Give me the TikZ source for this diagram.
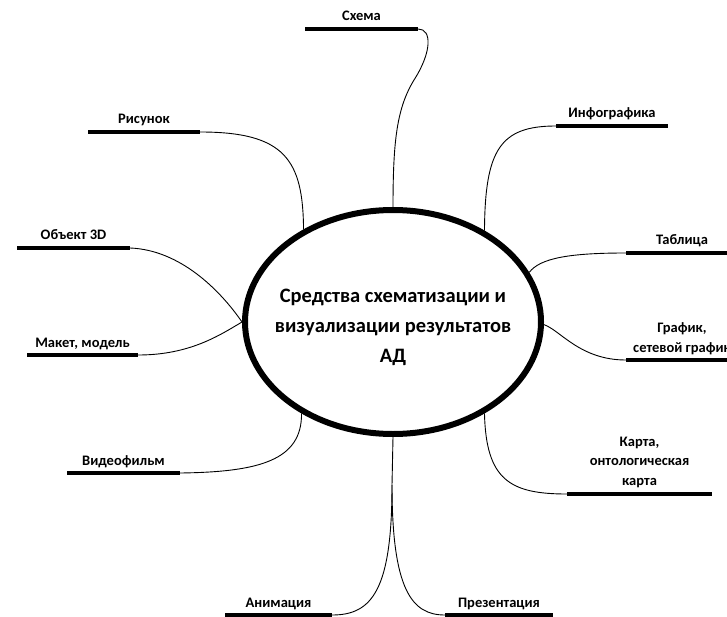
\documentclass[tikz,border=0pt]{standalone}
\usepackage{fontspec}
\setmainfont{Carlito}
\usetikzlibrary{shapes.geometric, positioning}

\begin{document}
\begin{tikzpicture}[x=1pt, y=-1pt,
    hub/.style={ellipse, draw, line width=6pt, minimum width=296pt, minimum height=224pt, inner sep=0pt},
    hubtext/.style={align=center, font=\bfseries\fontsize{20.5}{30}\selectfont},
    bar/.style={rectangle, fill=black, minimum height=4.5pt, inner sep=0pt},
    lbl/.style={anchor=base, align=center, inner sep=0pt, font=\bfseries\fontsize{14.5}{19.5}\selectfont},
    link/.style={line width=0.9pt}]
    \useasboundingbox (0,0) rectangle (727,617);
    % --- Центр ---
    \node[hub] (c) at (393,322) {};
    \node[hubtext] (ctext) at (393,327) {Средства схематизации и\\визуализации результатов\\АД};
    % --- Полки ---
    \node[bar, minimum width=113pt] (bSchema) at (361.5,29) {};
    \node[bar, minimum width=112pt] (bInfo) at (612,126) {};
    \node[bar, minimum width=112pt] (bTable) at (682,253) {};
    \node[bar, minimum width=112pt] (bGraph) at (682,360) {};
    \node[bar, minimum width=145pt] (bMap) at (639.5,494) {};
    \node[bar, minimum width=108pt] (bPres) at (499,615) {};
    \node[bar, minimum width=107pt] (bAnim) at (278.5,615) {};
    \node[bar, minimum width=113pt] (bVideo) at (123.5,473) {};
    \node[bar, minimum width=111pt] (bModel) at (82.5,355) {};
    \node[bar, minimum width=113pt] (bObject) at (73.5,248) {};
    \node[bar, minimum width=112pt] (bDraw) at (144,132) {};
    % --- Подписи ---
    \node[lbl] (tSchema) at ([yshift=8pt]bSchema.center) {Схема};
    \node[lbl] (tInfo) at ([yshift=8pt]bInfo.center) {Инфографика};
    \node[lbl] (tTable) at ([yshift=8pt]bTable.center) {Таблица};
    \node[lbl] (tGraph) at ([yshift=8pt]bGraph.center) {График,\\сетевой график};
    \node[lbl] (tMap) at ([yshift=9pt]bMap.center) {Карта,\\онтологическая\\карта};
    \node[lbl] (tPres) at ([yshift=8pt]bPres.center) {Презентация};
    \node[lbl] (tAnim) at ([yshift=8pt]bAnim.center) {Анимация};
    \node[lbl] (tVideo) at ([yshift=8pt]bVideo.center) {Видеофильм};
    \node[lbl] (tModel) at ([yshift=8pt]bModel.center) {Макет, модель};
    \node[lbl] (tObject) at ([yshift=8pt]bObject.center) {Объект 3D};
    \node[lbl] (tDraw) at ([yshift=8pt]bDraw.center) {Рисунок};
    % --- Связи ---
    \coordinate (fork) at (392,485);
    \draw[link] (bSchema.east) .. controls (432,29) and (432,52) .. (414,80)
      .. controls (397,108) and (393,140) .. (c.90);
    \draw[link] (c.45) .. controls (485,150) and (500,126) .. (bInfo.west);
    \draw[link] (c.20) .. controls (540,258) and (570,253) .. (bTable.west);
    \draw[link] (c.-1) .. controls (560,330) and (580,360) .. (bGraph.west);
    \draw[link] (c.-45) .. controls (486,480) and (510,494) .. (bMap.west);
    \draw[link] (c.-90) -- (fork);
    \draw[link] (fork) .. controls (392,590) and (412,615) .. (bPres.west);
    \draw[link] (fork) .. controls (392,590) and (372,615) .. (bAnim.east);
    \draw[link] (c.-135) .. controls (302,460) and (260,472) .. (bVideo.east);
    \draw[link] (c.180) .. controls (220,335) and (190,355) .. (bModel.east);
    \draw[link] (c.180) .. controls (220,290) and (180,250) .. (bObject.east);
    \draw[link] (c.134) .. controls (303,160) and (285,132) .. (bDraw.east);
\end{tikzpicture}
\end{document}
